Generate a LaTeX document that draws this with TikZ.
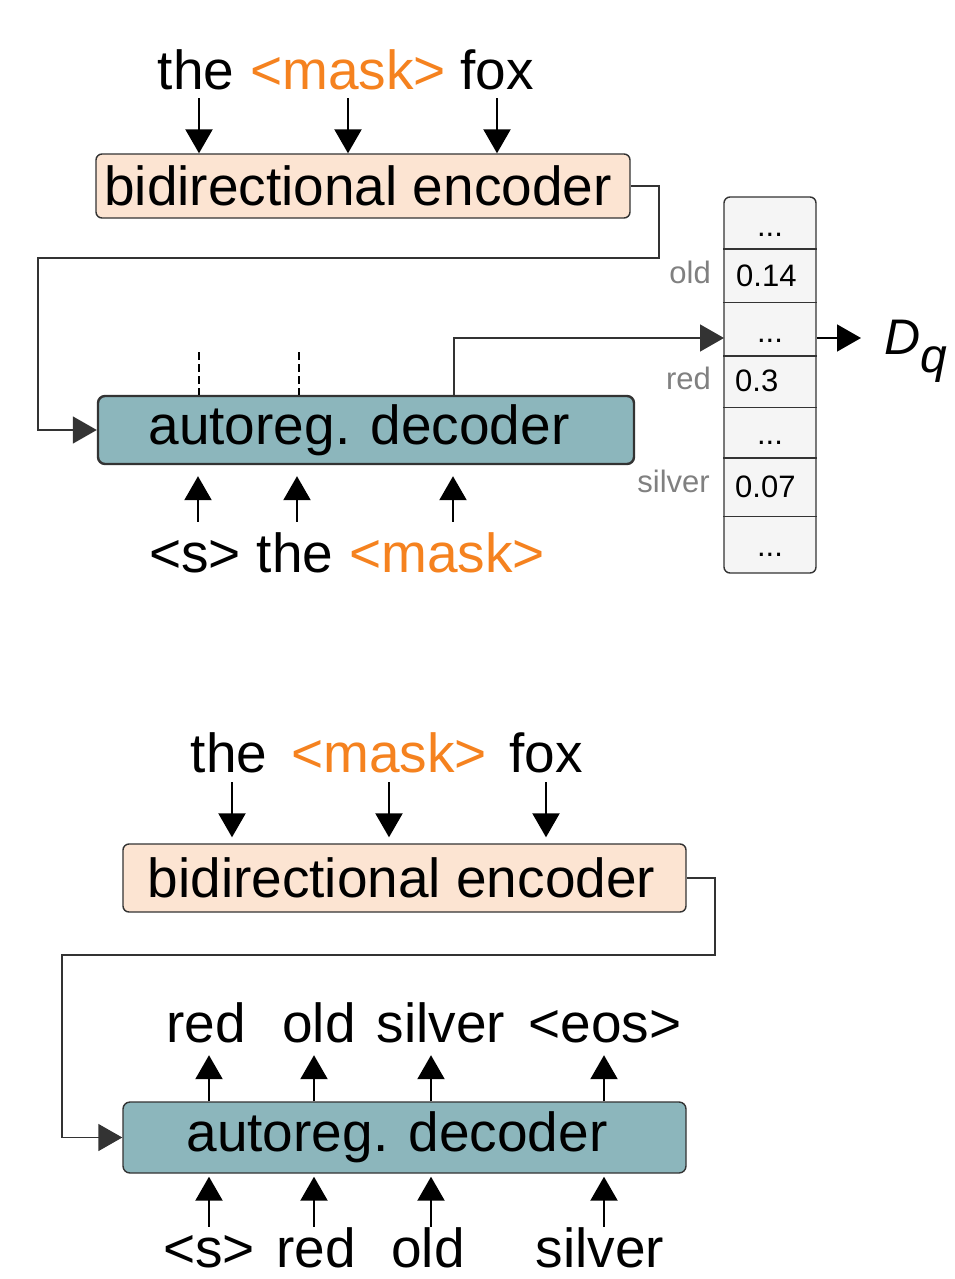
\documentclass[tikz,border=0pt]{standalone}
\usepackage{fontspec}
\setmainfont{Liberation Sans}
\usetikzlibrary{arrows.meta,calc}
\definecolor{peach}{HTML}{FCE4D2}
\definecolor{tealbox}{HTML}{8CB6BC}
\definecolor{orng}{HTML}{F5821F}
\definecolor{lblgray}{HTML}{808080}
\definecolor{cellfill}{HTML}{F5F5F5}
\definecolor{edge}{HTML}{333333}
\begin{document}
\begin{tikzpicture}[x=1pt,y=-1pt,
  big/.style={font=\fontsize{55}{60}\selectfont, inner sep=0pt},
  wdown/.style={big, anchor=base, text depth=8pt},
  wup/.style={big, anchor=base, text height=50pt},
  wout/.style={big, anchor=base, text depth=13pt},
  small/.style={font=\fontsize{31}{34}\selectfont, inner sep=0pt},
  encbox/.style={draw=edge, line width=1.4pt, fill=peach, rounded corners=6pt, inner sep=0pt, font=\fontsize{55}{60}\selectfont},
  decbox/.style={draw=edge, line width=2.4pt, fill=tealbox, rounded corners=7pt, inner sep=0pt, font=\fontsize{55}{60}\selectfont},
  arr/.style={line width=2.2pt, -{Triangle[width=27pt,length=24pt]}},
  conn/.style={draw=edge, line width=1.5pt},
  connarr/.style={conn, -{Triangle[width=27pt,length=24pt]}},
  dashline/.style={line width=1.5pt, dash pattern=on 8pt off 4pt},
]
\useasboundingbox (0,0) rectangle (955,1279);

% ================= TOP =================
\node[wdown] (a1) at (196,90) {the};
\node[wdown, text=orng] (a2) at (348,90) {<mask>};
\node[wdown] (a3) at (497,90) {fox};

\node[encbox, minimum width=534pt, minimum height=64pt] (enc) at (363,186) {\hspace*{-10pt}bidirectional encoder};
\node[decbox, minimum width=536pt, minimum height=68pt] (dec) at (366,430) {\hspace*{-14pt}autoreg. decoder};

\draw[arr] (199,0 |- a1.south) -- (199,0 |- enc.north);
\draw[arr] (348,0 |- a2.south) -- (348,0 |- enc.north);
\draw[arr] (497,0 |- a3.south) -- (497,0 |- enc.north);

\coordinate (c1) at (659,258);
\coordinate (c2) at (38,258);
\draw[connarr] (enc.east) -| (c1) -- (c2) |- (dec.west);

\coordinate (d1) at (199,352);
\coordinate (d2) at (299,352);
\draw[dashline] (d1) -- (d1 |- dec.north);
\draw[dashline] (d2) -- (d2 |- dec.north);

\node[wup] (s1) at (195,572) {<s>};
\node[wup] (s2) at (295,572) {the};
\node[wup, text=orng] (s3) at (447,572) {<mask>};
\draw[arr, shorten >=11pt] (198,0 |- s1.north) -- (198,0 |- dec.south);
\draw[arr, shorten >=11pt] (297,0 |- s2.north) -- (297,0 |- dec.south);
\draw[arr, shorten >=11pt] (453,0 |- s3.north) -- (453,0 |- dec.south);

% table
\node[draw=edge, line width=1.4pt, fill=cellfill, rounded corners=6pt, minimum width=92pt, minimum height=376pt, inner sep=0pt] (tbl) at (770,385) {};
\foreach \yy in {249,302.5,356,407.5,458,516.5}
  \draw[draw=edge, line width=1.3pt] (tbl.west |- 0,\yy) -- (tbl.east |- 0,\yy);
\node[small, anchor=base] (r1) at (770,236) {...};
\node[small, anchor=west] (r2) at (736,276) {0.14};
\node[small, anchor=base] (r3) at (770,342) {...};
\node[small, anchor=west] (r4) at (735,381) {0.3};
\node[small, anchor=base] (r5) at (770,444) {...};
\node[small, anchor=west] (r6) at (735,487) {0.07};
\node[small, anchor=base] (r7) at (770,556) {...};
\node[small, anchor=base east, text=lblgray] (l1) at (711,283) {old};
\node[small, anchor=base east, text=lblgray] (l2) at (711,389) {red};
\node[small, anchor=base east, text=lblgray] (l3) at (710,492) {silver};

\coordinate (tin) at (724,338);
\draw[connarr] (454,0 |- dec.north) |- (tin);
\coordinate (tout) at (861,338);
\draw[arr, line width=1.6pt] (tbl.east |- tin) -- (tout);
\node[anchor=base west, inner sep=0pt, font=\fontsize{50}{55}\selectfont\itshape] (dq) at (884,354) {D\raisebox{-18pt}{\fontsize{48}{50}\selectfont\itshape q}};

% ================= BOTTOM =================
\node[wdown, text depth=10pt] (b1) at (229,772) {the};
\node[wdown, text depth=10pt, text=orng] (b2) at (389,772) {<mask>};
\node[wdown, text depth=10pt] (b3) at (546,772) {fox};

\node[encbox, minimum width=563pt, minimum height=68pt] (enc2) at (404.5,878) {\hspace*{-6pt}bidirectional encoder};
\node[decbox, line width=1.4pt, minimum width=563pt, minimum height=71pt] (dec2) at (404.5,1137.5) {\hspace*{-15pt}autoreg. decoder};

\draw[arr, shorten >=6pt] (232,0 |- b1.south) -- (232,0 |- enc2.north);
\draw[arr, shorten >=6pt] (389,0 |- b2.south) -- (389,0 |- enc2.north);
\draw[arr, shorten >=6pt] (546,0 |- b3.south) -- (546,0 |- enc2.north);

\coordinate (e1) at (715,955);
\coordinate (e2) at (62,955);
\draw[connarr] (enc2.east) -| (e1) -- (e2) |- (dec2.west);

\node[wout] (o1) at (206,1042) {red};
\node[wout] (o2) at (319,1042) {old};
\node[wout] (o3) at (441,1042) {silver};
\node[wout] (o4) at (605,1042) {<eos>};
\draw[arr] (209,0 |- dec2.north) -- (209,0 |- o1.south);
\draw[arr] (314,0 |- dec2.north) -- (314,0 |- o2.south);
\draw[arr] (431,0 |- dec2.north) -- (431,0 |- o3.south);
\draw[arr] (604,0 |- dec2.north) -- (604,0 |- o4.south);

\node[wup, text height=40pt] (i1) at (209,1267) {<s>};
\node[wup, text height=40pt] (i2) at (316,1267) {red};
\node[wup, text height=40pt] (i3) at (428,1267) {old};
\node[wup, text height=40pt] (i4) at (600,1267) {silver};
\draw[arr, shorten >=3pt] (209,0 |- i1.north) -- (209,0 |- dec2.south);
\draw[arr, shorten >=3pt] (314,0 |- i2.north) -- (314,0 |- dec2.south);
\draw[arr, shorten >=3pt] (431,0 |- i3.north) -- (431,0 |- dec2.south);
\draw[arr, shorten >=3pt] (604,0 |- i4.north) -- (604,0 |- dec2.south);
\end{tikzpicture}
\end{document}
